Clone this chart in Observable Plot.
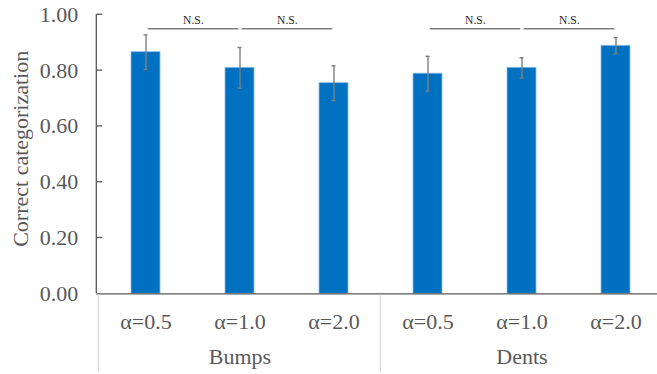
<!DOCTYPE html>
<html><head><meta charset="utf-8">
<script src="https://cdn.jsdelivr.net/npm/d3@7"></script>
<script src="https://cdn.jsdelivr.net/npm/@observablehq/plot@0.6"></script>
<style>body{margin:0;background:#fff} svg text{font-family:"Liberation Serif","Times New Roman",serif !important;}</style>
</head><body><div id="chart"></div>
<script>
// ---- data ----
const groups = ["Bumps", "Bumps", "Bumps", "Dents", "Dents", "Dents"];
const alphas = ["α=0.5", "α=1.0", "α=2.0", "α=0.5", "α=1.0", "α=2.0"];
const means  = [0.866, 0.810, 0.755, 0.789, 0.810, 0.889];
const errors = [0.062, 0.073, 0.062, 0.062, 0.036, 0.029];
const yTicks = [0, 0.2, 0.4, 0.6, 0.8, 1.0];
const groupNames = ["Bumps", "Dents"];
const compFrom = [0, 1, 3, 4];
const compTo   = [1, 2, 4, 5];
const compLabels = ["N.S.", "N.S.", "N.S.", "N.S."];
const bracketLevel = 0.95;
const labelLevel = 0.982;
const yTitle = "Correct categorization";

// ---- build tables ----
const keys = groups.map((g, i) => g + "|" + alphas[i]);
const data = keys.map((k, i) => ({key: k, mean: means[i], lo: means[i] - errors[i], hi: means[i] + errors[i]}));
const comps = compFrom.map((a, i) => ({a: keys[a], b: keys[compTo[i]], label: compLabels[i]}));
const groupMid = groupNames.map(g => ({key: keys[groups.indexOf(g) + 1], name: g}));
const groupStart = groupNames.map(g => keys[groups.indexOf(g)]);

const W = 657, H = 374;
const mL = 96.3, mT = 14.3, mB = 80.7;
const xRange = [mL, 663.9];
const step = (xRange[1] - xRange[0]) / keys.length;
const pIn = 0.69;
const bw = step * (1 - pIn);
const font = "Liberation Serif";
const textCol = "#595959";

function decorations(index, scales, values, dims) {
  const x = scales.x, y = scales.y;
  const g = d3.create("svg:g");
  g.append("line").attr("x1", mL).attr("x2", mL).attr("y1", y(1)).attr("y2", y(0))
    .attr("stroke", "#595959").attr("stroke-width", 1.3);
  for (const t of yTicks.slice(1)) {
    g.append("line").attr("x1", mL).attr("x2", mL + 6).attr("y1", y(t)).attr("y2", y(t))
      .attr("stroke", "#595959").attr("stroke-width", 1.3);
  }
  for (const k of groupStart) {
    const xs = x(k) + bw / 2 - step / 2;
    g.append("line").attr("x1", xs).attr("x2", xs).attr("y1", y(0) + 1).attr("y2", dims.height - 2)
      .attr("stroke", "#d9d9d9").attr("stroke-width", 1.3);
  }
  return g.node();
}

const chart = Plot.plot({
  width: W, height: H,
  marginLeft: mL, marginRight: 0, marginTop: mT, marginBottom: mB,
  style: "font-family: 'Liberation Serif', serif; background: #fff; overflow: hidden;",
  x: {type: "band", domain: keys, range: xRange, paddingInner: pIn, paddingOuter: pIn / 2},
  y: {domain: [0, 1]},
  marks: [
    Plot.barY(data, {x: "key", y: "mean", fill: "#0070c0", stroke: "#8dbbe6", strokeWidth: 0.8}),
    Plot.ruleX(data, {x: "key", y1: "lo", y2: "hi", stroke: "#7f7f7f", strokeWidth: 1.4}),
    Plot.tickY(data, {x: "key", y: "hi", stroke: "#7f7f7f", strokeWidth: 1.4, insetLeft: bw / 2 - 2.2, insetRight: bw / 2 - 2.2}),
    Plot.tickY(data, {x: "key", y: "lo", stroke: "#7f7f7f", strokeWidth: 1.4, insetLeft: bw / 2 - 2.2, insetRight: bw / 2 - 2.2}),
    Plot.ruleY(comps, {x1: "a", x2: "b", y: () => bracketLevel, stroke: "#7f7f7f", strokeWidth: 1.3,
      insetLeft: bw / 2 + 2, insetRight: bw / 2 + 1}),
    Plot.text(comps, {x: "a", y: () => labelLevel, text: "label", dx: step / 2, fontSize: 11.5, fontFamily: font, fill: "#262626"}),
    Plot.ruleY([0], {stroke: "#595959", strokeWidth: 1.3}),
    decorations,
    Plot.axisY({ticks: yTicks, tickFormat: d3.format(".2f"), tickSize: 0, tickPadding: 18.5,
      fontSize: 22, fontFamily: font, fill: textCol, label: null}),
    Plot.axisX({tickSize: 0, tickPadding: 20, tickFormat: k => k.split("|")[1], fontSize: 22, fontFamily: font, fill: textCol, label: null}),
    Plot.text(groupMid, {x: "key", text: "name", frameAnchor: "bottom", dy: 70, fontSize: 22, fontFamily: font, fill: textCol}),
    Plot.text([yTitle], {frameAnchor: "left", textAnchor: "middle", rotate: -90, dx: -76.3, dy: -5.5, fontSize: 22, fontFamily: font, fill: textCol})
  ]
});
document.getElementById("chart").appendChild(chart);
</script>
</body></html>
